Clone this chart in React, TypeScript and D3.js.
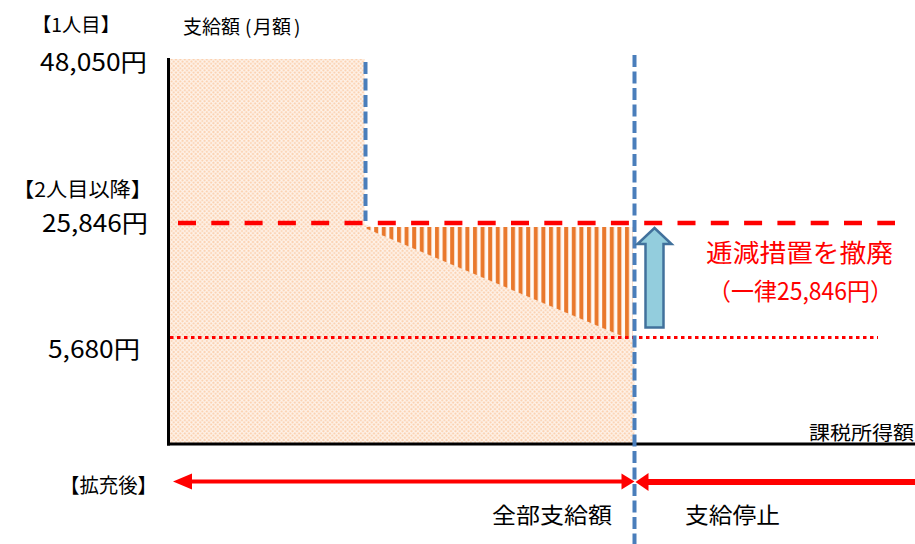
import React from "react";
import * as d3 from "d3";

// ---- data ----
const amountTicks = [48050, 25846, 5680];
const amountLabels = ["48,050円", "25,846円", "5,680円"];
const groupLabels = ["【1人目】", "【2人目以降】"];
const yAxisTitle = ["支給額", "(", "月額", ")"];
const xAxisTitle = "課税所得額";
// income stages: 0 = origin, 1 = first-child step, 2 = full-payment cutoff, 3 = right edge
const incomeStages = [0, 1, 2, 3];
const benefitStage = [0, 1, 1, 2, 2];
const benefitAmount = [48050, 48050, 25846, 5680, 0];
const reliefStage = [1, 2, 2];
const reliefAmount = [25846, 25846, 5680];
const reformLines = ["逓減措置を撤廃", "（一律25,846円）"];
const bottomLabels = ["【拡充後】", "全部支給額", "支給停止"];

const W = 915;
const H = 544;
const FONT = "'Noto Sans CJK JP', 'Noto Sans', sans-serif";

export default function App() {
  const y = d3
    .scaleLinear()
    .domain([0, 5680, 25846, 48050])
    .range([444, 337.5, 224, 59]);
  const x = d3
    .scaleLinear()
    .domain(incomeStages)
    .range([168.5, 364.5, 634.5, 915]);

  const area = d3
    .line<[number, number]>()
    .x((d) => x(d[0]))
    .y((d) => y(d[1]));

  const benefitPts: [number, number][] = benefitStage.map((s, i) => [s, benefitAmount[i]]);
  benefitPts.push([0, 0]);
  const reliefPts: [number, number][] = reliefStage.map((s, i) => [s, reliefAmount[i]]);

  const xCut = x(2);
  const xStep = x(1);
  const y1 = y(amountTicks[0]);
  const y2 = y(amountTicks[1]);
  const y3 = y(amountTicks[2]);
  const yBase = y(0);

  // blue up arrow
  const ax = xCut + 20;
  const aTop = y2 + 4;
  const aBot = y3 - 10;
  const arrowPts = [
    [ax, aTop],
    [ax + 17, aTop + 16],
    [ax + 9, aTop + 16],
    [ax + 9, aBot],
    [ax - 9, aBot],
    [ax - 9, aTop + 16],
    [ax - 17, aTop + 16],
  ]
    .map((p) => p.join(","))
    .join(" ");

  const ra = 481.5;

  return (
    <svg width={W} height={H} style={{ position: "absolute", left: 0, top: 0 }} fontFamily={FONT}>
      <defs>
        <pattern id="peach" patternUnits="userSpaceOnUse" width="4.4" height="4.4">
          <rect width="4.4" height="4.4" fill="#FBD0AE" />
          <path d="M0,0 L4.4,4.4 M4.4,0 L0,4.4" stroke="#FFFFFF" strokeWidth="1.1" opacity="0.75" />
        </pattern>
        <pattern id="stripes" patternUnits="userSpaceOnUse" width="7.6" height="10" x="360">
          <rect width="7.6" height="10" fill="#FFFAF6" />
          <rect x="1" width="4" height="10" fill="#E9782C" />
        </pattern>
      </defs>
      <rect width={W} height={H} fill="#fff" />

      {/* benefit area */}
      <path d={area(benefitPts) + "Z"} fill="url(#peach)" />
      {/* relief (striped) */}
      <path d={area(reliefPts) + "Z"} fill="url(#stripes)" transform="translate(-2,3)" />

      {/* axes */}
      <line x1={x(0)} x2={x(0)} y1={y1 - 1} y2={yBase + 1.5} stroke="#000" strokeWidth={3} />
      <line x1={x(0) - 1.5} x2={x(3)} y1={yBase} y2={yBase} stroke="#000" strokeWidth={3} />

      {/* reference lines */}
      <line x1={178} x2={895} y1={y2 - 1} y2={y2 - 1} stroke="#FF0000" strokeWidth={4.5} strokeDasharray="18 15.3" />
      <line x1={170} x2={878} y1={y3} y2={y3} stroke="#FF0000" strokeWidth={3} strokeDasharray="3.5 3.5" />

      {/* blue dashed verticals */}
      <line x1={xStep + 1} x2={xStep + 1} y1={62} y2={y2 - 3} stroke="#4A7EBB" strokeWidth={4} strokeDasharray="12 4.5" />
      <line x1={xCut} x2={xCut} y1={55} y2={H} stroke="#4A7EBB" strokeWidth={4} strokeDasharray="12 4.5" />

      {/* blue arrow */}
      <polygon points={arrowPts} fill="#93CDDD" stroke="#41719C" strokeWidth={2.5} strokeLinejoin="miter" />

      {/* labels */}
      <text x={32} y={23} fontSize={19} dominantBaseline="central" textLength={88} lengthAdjust="spacingAndGlyphs">{groupLabels[0]}</text>
      <text x={183} y={25} fontSize={19} dominantBaseline="central">
        <tspan>{yAxisTitle[0]}</tspan>
        <tspan x={245}>{yAxisTitle[1]}</tspan>
        <tspan x={253}>{yAxisTitle[2]}</tspan>
        <tspan x={294}>{yAxisTitle[3]}</tspan>
      </text>
      <text x={13} y={188} fontSize={20} dominantBaseline="central" textLength={139} lengthAdjust="spacingAndGlyphs">{groupLabels[1]}</text>

      {amountTicks.map((v, i) => {
        const right = [147, 148, 140][i];
        const len = [107, 106, 92][i];
        const dy = [1, -3, 10][i];
        return (
          <text key={v} x={right - len} y={y(v) + dy} fontSize={24} dominantBaseline="central" textLength={len} lengthAdjust="spacingAndGlyphs">
            {amountLabels[i]}
          </text>
        );
      })}

      <text x={809} y={431} fontSize={19} dominantBaseline="central" textLength={105} lengthAdjust="spacingAndGlyphs">{xAxisTitle}</text>

      <text x={706} y={251} fontSize={25} fill="#FF0000" dominantBaseline="central" textLength={187} lengthAdjust="spacingAndGlyphs">{reformLines[0]}</text>
      <text x={708} y={289} fontSize={24} fill="#FF0000" dominantBaseline="central" textLength={185} lengthAdjust="spacingAndGlyphs">{reformLines[1]}</text>

      {/* bottom arrows */}
      <line x1={190} x2={625} y1={ra} y2={ra} stroke="#FF0000" strokeWidth={4} />
      <polygon points={`173,${ra} 192,${ra - 8} 192,${ra + 8}`} fill="#FF0000" />
      <polygon points={`${xCut},${ra} ${xCut - 13},${ra - 8} ${xCut - 13},${ra + 8}`} fill="#FF0000" />
      <line x1={xCut + 10} x2={W} y1={ra + 0.5} y2={ra + 0.5} stroke="#FF0000" strokeWidth={6} />
      <polygon points={`${xCut + 1},${ra + 0.5} ${xCut + 14},${ra - 8.5} ${xCut + 14},${ra + 9.5}`} fill="#FF0000" />

      <text x={60} y={484} fontSize={20} dominantBaseline="central" textLength={97} lengthAdjust="spacingAndGlyphs">{bottomLabels[0]}</text>
      <text x={492} y={513} fontSize={22} dominantBaseline="central" textLength={120} lengthAdjust="spacingAndGlyphs">{bottomLabels[1]}</text>
      <text x={685} y={513} fontSize={22} dominantBaseline="central" textLength={95} lengthAdjust="spacingAndGlyphs">{bottomLabels[2]}</text>
    </svg>
  );
}
